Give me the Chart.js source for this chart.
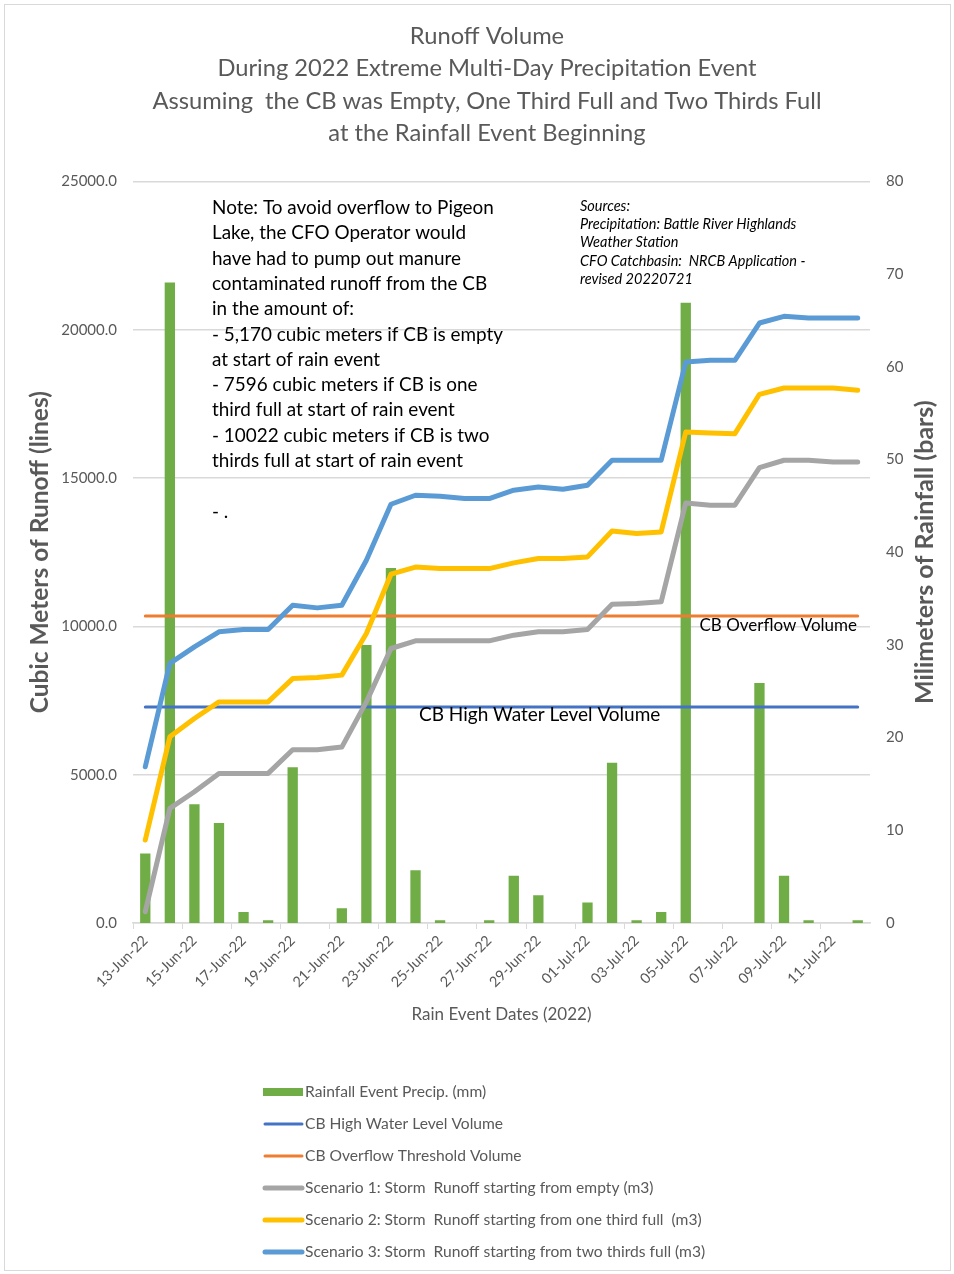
<!DOCTYPE html>
<html>
<head>
<meta charset="utf-8">
<title>Runoff Volume</title>
<script src="https://cdn.jsdelivr.net/npm/chart.js@4.4.1/dist/chart.umd.min.js"></script>
<style>
  html, body { margin: 0; padding: 0; background: #fff; }
  #wrap { width: 954px; height: 1274px; }
</style>
</head>
<body>
<div id="wrap"><canvas id="chart" width="954" height="1274"></canvas></div>
<script>
// daily values, 13 Jun - 12 Jul 2022
const dates = [
  "13-Jun-22", "14-Jun-22", "15-Jun-22", "16-Jun-22", "17-Jun-22", "18-Jun-22",
  "19-Jun-22", "20-Jun-22", "21-Jun-22", "22-Jun-22", "23-Jun-22", "24-Jun-22",
  "25-Jun-22", "26-Jun-22", "27-Jun-22", "28-Jun-22", "29-Jun-22", "30-Jun-22",
  "01-Jul-22", "02-Jul-22", "03-Jul-22", "04-Jul-22", "05-Jul-22", "06-Jul-22",
  "07-Jul-22", "08-Jul-22", "09-Jul-22", "10-Jul-22", "11-Jul-22", "12-Jul-22"
];

// rainfall, mm (right axis)
const rainfall = [
  7.5, 69.1, 12.8, 10.8, 1.2, 0.3, 16.8, 0, 1.6, 30.0,
  38.3, 5.7, 0.3, 0, 0.3, 5.1, 3.0, 0, 2.2, 17.3,
  0.3, 1.2, 66.9, 0, 0, 25.9, 5.1, 0.3, 0, 0.3
];

// cumulative runoff in the CB, m3 (left axis)
const scenarioEmpty = [
  381, 3864, 4424, 5043, 5043, 5043, 5840, 5840, 5930, 7453,
  9254, 9512, 9512, 9512, 9512, 9703, 9815, 9815, 9895, 10748,
  10770, 10826, 14160, 14084, 14084, 15354, 15600, 15600, 15543, 15543
];
const scenarioOneThird = [
  2797, 6277, 6894, 7453, 7453, 7453, 8240, 8275, 8356, 9760,
  11759, 12000, 11947, 11947, 11947, 12140, 12287, 12287, 12342, 13215,
  13127, 13182, 16553, 16520, 16497, 17823, 18036, 18036, 18036, 17958
];
const scenarioTwoThirds = [
  5266, 8750, 9310, 9815, 9895, 9895, 10714, 10623, 10714, 12230,
  14117, 14420, 14387, 14307, 14307, 14589, 14700, 14622, 14757, 15600,
  15600, 15600, 18912, 18969, 18969, 20226, 20451, 20395, 20395, 20395
];

const HIGH_WATER = 7280;
const OVERFLOW = 10350;
const highWater = new Array(dates.length).fill(HIGH_WATER);
const overflow = new Array(dates.length).fill(OVERFLOW);

const runoffTicks = [0, 5000, 10000, 15000, 20000, 25000];
const rainTicks = [0, 10, 20, 30, 40, 50, 60, 70, 80];

const titleLines = [
  "Runoff Volume",
  "During 2022 Extreme Multi-Day Precipitation Event",
  "Assuming  the CB was Empty, One Third Full and Two Thirds Full",
  "at the Rainfall Event Beginning"
];

const noteLines = [
  "Note: To avoid overflow to Pigeon",
  "Lake, the CFO Operator would",
  "have had to pump out manure",
  "contaminated runoff from the CB",
  "in the amount of:",
  "- 5,170 cubic meters if CB is empty",
  "at start of rain event",
  "- 7596 cubic meters if CB is one",
  "third full at start of rain event",
  "- 10022 cubic meters if CB is two",
  "thirds full at start of rain event",
  "",
  "- ."
];

const sourceLines = [
  "Sources:",
  "Precipitation: Battle River Highlands",
  "Weather Station",
  "CFO Catchbasin:  NRCB Application -",
  "revised 20220721"
];

const FONT = 'Lato, "Open Sans", sans-serif';
const GREY = '#595959';

// text boxes, rotated right-hand title, legend and frame
const extras = {
  id: 'extras',
  afterDraw(chart) {
    const ctx = chart.ctx;
    const area = chart.chartArea;
    const y = chart.scales.y;
    ctx.save();

    ctx.strokeStyle = '#d9d9d9';
    ctx.lineWidth = 1;
    ctx.strokeRect(4.5, 4.5, 946, 1266);

    ctx.fillStyle = '#000';
    ctx.textBaseline = 'middle';
    ctx.textAlign = 'left';
    ctx.font = '18.9px ' + FONT;
    noteLines.forEach((t, i) => ctx.fillText(t, area.left + 79, 208 + i * 25.3));

    ctx.font = 'italic 14.5px ' + FONT;
    sourceLines.forEach((t, i) => ctx.fillText(t, area.left + 447, 206 + i * 18.3));

    ctx.font = '17px ' + FONT;
    ctx.textAlign = 'right';
    ctx.fillText('CB Overflow Volume', area.right - 13, y.getPixelForValue(OVERFLOW) + 10);
    ctx.textAlign = 'left';
    ctx.font = '19px ' + FONT;
    ctx.fillText('CB High Water Level Volume', area.left + 286, y.getPixelForValue(HIGH_WATER) + 8);

    // right axis title reads bottom to top like the left one
    ctx.save();
    ctx.translate(925, (area.top + area.bottom) / 2);
    ctx.rotate(-Math.PI / 2);
    ctx.textAlign = 'center';
    ctx.fillStyle = GREY;
    ctx.font = 'bold 25px ' + FONT;
    ctx.fillText('Milimeters of Rainfall (bars)', 0, 0);
    ctx.restore();

    // legend, one entry per row
    ctx.font = '15.6px ' + FONT;
    chart.data.datasets.forEach((ds, i) => {
      const ly = 1092 + i * 32;
      if (ds.type === 'bar') {
        ctx.fillStyle = ds.backgroundColor;
        ctx.fillRect(263, ly - 4, 40, 8);
      } else {
        ctx.strokeStyle = ds.borderColor;
        ctx.lineWidth = ds.borderWidth;
        ctx.lineCap = 'round';
        ctx.beginPath();
        ctx.moveTo(265, ly);
        ctx.lineTo(302, ly);
        ctx.stroke();
      }
      ctx.fillStyle = GREY;
      ctx.fillText(ds.label, 305, ly);
    });
    ctx.restore();
  }
};

const lineSet = (label, data, color, width, order) => ({
  type: 'line',
  label: label,
  data: data,
  yAxisID: 'y',
  borderColor: color,
  backgroundColor: color,
  borderWidth: width,
  pointRadius: 0,
  tension: 0,
  borderCapStyle: 'round',
  borderJoinStyle: 'round',
  order: order
});

new Chart(document.getElementById('chart'), {
  type: 'bar',
  data: {
    labels: dates,
    datasets: [
      {
        type: 'bar',
        label: 'Rainfall Event Precip. (mm)',
        data: rainfall,
        yAxisID: 'y1',
        backgroundColor: '#70AD47',
        categoryPercentage: 1,
        barPercentage: 0.42,
        order: 10
      },
      lineSet('CB High Water Level Volume', highWater, '#4472C4', 3, 6),
      lineSet('CB Overflow Threshold Volume', overflow, '#ED7D31', 3, 5),
      lineSet('Scenario 1: Storm  Runoff starting from empty (m3)', scenarioEmpty, '#A5A5A5', 5, 4),
      lineSet('Scenario 2: Storm  Runoff starting from one third full  (m3)', scenarioOneThird, '#FFC000', 5, 3),
      lineSet('Scenario 3: Storm  Runoff starting from two thirds full (m3)', scenarioTwoThirds, '#5B9BD5', 5, 2)
    ]
  },
  options: {
    responsive: false,
    animation: false,
    devicePixelRatio: 1,
    layout: { padding: { top: 0, left: 20, right: 0, bottom: 244 } },
    plugins: {
      legend: { display: false },
      tooltip: { enabled: false },
      title: {
        display: true,
        text: titleLines,
        color: GREY,
        font: { family: FONT, size: 23.7, weight: 'normal', lineHeight: 1.365 },
        padding: { top: 20, bottom: 32 }
      }
    },
    scales: {
      x: {
        offset: true,
        grid: {
          offset: true,
          drawOnChartArea: false,
          drawTicks: true,
          tickLength: 6,
          color: ctx => (ctx.index % 2 === 0 ? '#d9d9d9' : 'rgba(0,0,0,0)')
        },
        border: { color: '#d9d9d9', width: 1.5 },
        ticks: {
          autoSkip: false,
          minRotation: 45,
          maxRotation: 45,
          color: GREY,
          font: { family: FONT, size: 14.5 },
          callback: (v, i) => (i % 2 === 0 ? dates[i] : '')
        },
        title: {
          display: true,
          text: 'Rain Event Dates (2022)',
          color: GREY,
          font: { family: FONT, size: 17 },
          padding: { top: 0, bottom: 5 }
        },
        afterFit: s => { s.height = 107; }
      },
      y: {
        position: 'left',
        min: 0,
        max: 25000,
        afterBuildTicks: s => { s.ticks = runoffTicks.map(v => ({ value: v })); },
        grid: { color: '#d9d9d9', lineWidth: 1.5, drawTicks: false },
        border: { display: false },
        ticks: {
          padding: 16,
          color: GREY,
          font: { family: FONT, size: 15 },
          callback: v => v.toFixed(1)
        },
        title: {
          display: true,
          text: 'Cubic Meters of Runoff (lines)',
          color: GREY,
          font: { family: FONT, size: 24.5, weight: 'bold' },
          padding: { top: 5, bottom: 0 }
        },
        afterFit: s => { s.width = 113; }
      },
      y1: {
        position: 'right',
        min: 0,
        max: 80,
        afterBuildTicks: s => { s.ticks = rainTicks.map(v => ({ value: v })); },
        grid: { display: false, drawTicks: false },
        border: { display: false },
        ticks: {
          padding: 16,
          color: GREY,
          font: { family: FONT, size: 15 }
        },
        afterFit: s => { s.width = 84; }
      }
    }
  },
  plugins: [extras]
});
</script>
</body>
</html>
